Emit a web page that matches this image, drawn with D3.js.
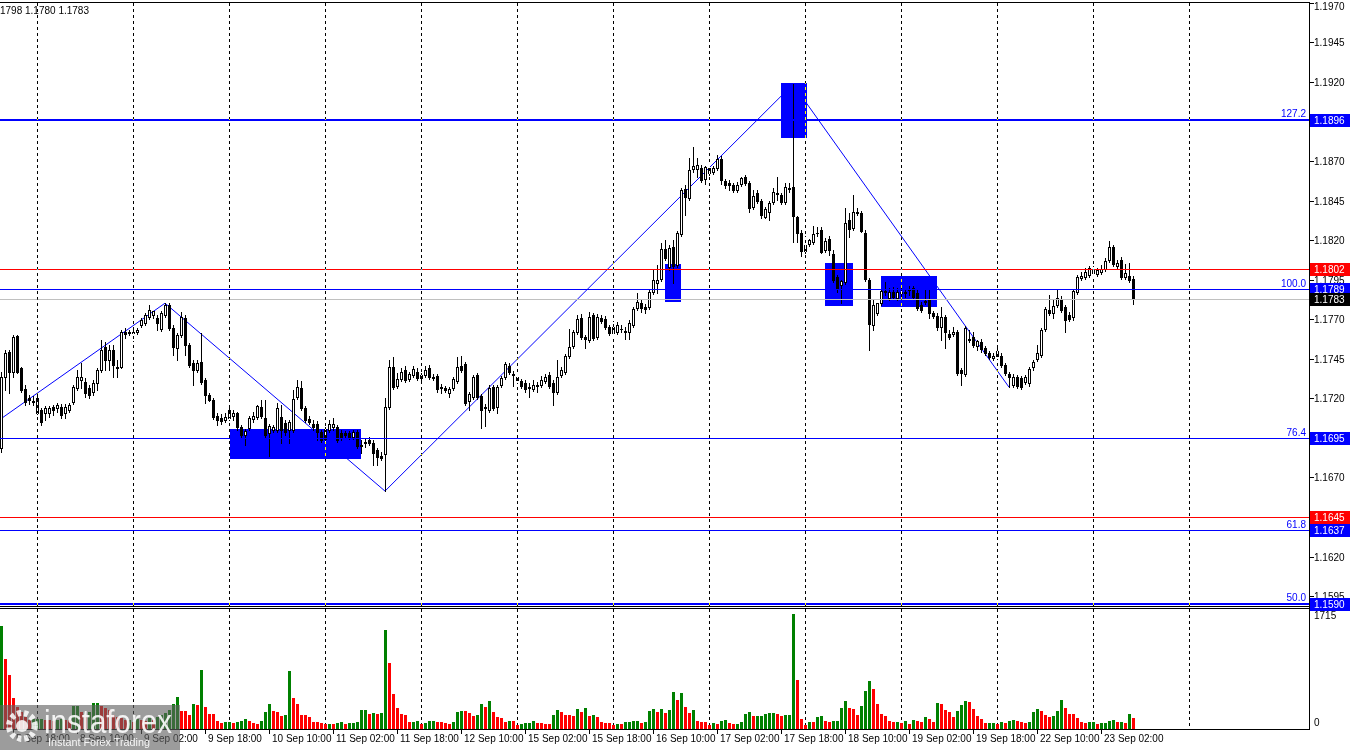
<!DOCTYPE html>
<html><head><meta charset="utf-8">
<script src="https://cdn.jsdelivr.net/npm/d3@7"></script>
<style>html,body{margin:0;padding:0;background:#fff;}svg{display:block;font-family:"Liberation Sans",Arial,sans-serif;}</style>
</head><body><svg id="c" width="1350" height="750"></svg>
<script>
// ---------- DATA (EURUSD H1, 5 Sep 15:00 .. 23 Sep 10:00) ----------
const opens=[1.16888,1.17338,1.17495,1.17369,1.17596,1.17394,1.17261,1.17205,1.17186,1.17110,
1.17129,1.17110,1.17110,1.17148,1.17142,1.17148,1.17110,1.17129,1.17179,1.17268,
1.17318,1.17306,1.17268,1.17242,1.17299,1.17382,1.17527,1.17445,1.17508,1.17401,
1.17401,1.17622,1.17615,1.17622,1.17622,1.17666,1.17679,1.17717,1.17729,1.17710,
1.17640,1.17729,1.17792,1.17647,1.17521,1.17603,1.17710,1.17540,1.17426,1.17382,
1.17432,1.17318,1.17224,1.17192,1.17091,1.17079,1.17066,1.17079,1.17091,1.17110,
1.17021,1.16970,1.17015,1.17072,1.17085,1.17148,1.17079,1.16983,1.17002,1.17002,
1.17085,1.17047,1.17002,1.17002,1.17211,1.17268,1.17142,1.17072,1.17041,1.17041,
1.16990,1.16945,1.17002,1.17021,1.17021,1.16983,1.16983,1.16983,1.16958,1.16990,
1.16907,1.16920,1.16939,1.16920,1.16876,1.16838,1.16850,1.17148,1.17401,1.17280,
1.17325,1.17382,1.17325,1.17350,1.17369,1.17331,1.17350,1.17394,1.17337,1.17344,
1.17274,1.17268,1.17236,1.17268,1.17312,1.17407,1.17420,1.17186,1.17211,1.17350,
1.17217,1.17142,1.17129,1.17274,1.17148,1.17287,1.17337,1.17407,1.17356,1.17337,
1.17312,1.17299,1.17274,1.17261,1.17287,1.17287,1.17312,1.17350,1.17299,1.17242,
1.17350,1.17369,1.17470,1.17533,1.17622,1.17710,1.17590,1.17571,1.17729,1.17590,
1.17710,1.17704,1.17653,1.17615,1.17622,1.17641,1.17622,1.17622,1.17666,1.17773,
1.17805,1.17780,1.17780,1.17875,1.17931,1.17956,1.18147,1.18033,1.18159,1.18045,
1.18241,1.18526,1.18469,1.18652,1.18652,1.18658,1.18589,1.18658,1.18633,1.18658,
1.18715,1.18576,1.18564,1.18551,1.18519,1.18557,1.18601,1.18564,1.18412,1.18500,
1.18450,1.18349,1.18380,1.18443,1.18500,1.18488,1.18443,1.18532,1.18538,1.18349,
1.18248,1.18134,1.18178,1.18191,1.18248,1.18266,1.18140,1.18210,1.18115,1.17968,
1.17919,1.17937,1.18330,1.18279,1.18380,1.18374,1.18248,1.17950,1.17666,1.17742,
1.17805,1.17875,1.17837,1.17875,1.17837,1.17875,1.17868,1.17887,1.17900,1.17868,
1.17792,1.17811,1.17830,1.17742,1.17723,1.17653,1.17717,1.17609,1.17609,1.17622,
1.17382,1.17356,1.17578,1.17590,1.17533,1.17559,1.17521,1.17489,1.17457,1.17502,
1.17470,1.17413,1.17356,1.17287,1.17337,1.17331,1.17306,1.17299,1.17401,1.17451,
1.17477,1.17641,1.17761,1.17742,1.17792,1.17830,1.17780,1.17729,1.17717,1.17875,
1.17962,1.17968,1.17981,1.17994,1.17987,1.18001,1.18020,1.18077,1.18159,1.18039,
1.18077,1.17968,1.17975,1.17956];
const highs=[1.17369,1.17508,1.17508,1.17603,1.17603,1.17401,1.17287,1.17224,1.17217,1.17217,
1.17142,1.17154,1.17154,1.17161,1.17173,1.17167,1.17167,1.17173,1.17287,1.17382,
1.17426,1.17331,1.17287,1.17318,1.17394,1.17571,1.17559,1.17540,1.17540,1.17445,
1.17634,1.17647,1.17634,1.17634,1.17647,1.17710,1.17742,1.17792,1.17748,1.17729,
1.17754,1.17805,1.17805,1.17666,1.17615,1.17748,1.17729,1.17552,1.17445,1.17445,
1.17615,1.17331,1.17236,1.17205,1.17110,1.17104,1.17110,1.17142,1.17129,1.17117,
1.17034,1.17009,1.17091,1.17117,1.17161,1.17192,1.17192,1.17041,1.17034,1.17173,
1.17161,1.17066,1.17066,1.17255,1.17318,1.17312,1.17154,1.17091,1.17066,1.17060,
1.17002,1.17021,1.17066,1.17079,1.17034,1.17002,1.16996,1.16996,1.17002,1.17002,
1.16939,1.16945,1.16958,1.16939,1.16888,1.16863,1.17205,1.17445,1.17464,1.17363,
1.17394,1.17407,1.17369,1.17407,1.17394,1.17363,1.17407,1.17413,1.17356,1.17356,
1.17293,1.17280,1.17274,1.17337,1.17464,1.17470,1.17432,1.17243,1.17350,1.17363,
1.17230,1.17167,1.17287,1.17287,1.17287,1.17344,1.17432,1.17426,1.17375,1.17350,
1.17325,1.17318,1.17299,1.17318,1.17306,1.17344,1.17356,1.17369,1.17318,1.17445,
1.17401,1.17483,1.17641,1.17634,1.17729,1.17736,1.17603,1.17748,1.17742,1.17736,
1.17729,1.17723,1.17666,1.17685,1.17685,1.17666,1.17653,1.17698,1.17780,1.17868,
1.17824,1.17799,1.17887,1.18014,1.18045,1.18184,1.18203,1.18172,1.18203,1.18260,
1.18532,1.18551,1.18722,1.18791,1.18722,1.18677,1.18671,1.18677,1.18671,1.18740,
1.18734,1.18589,1.18582,1.18564,1.18570,1.18601,1.18614,1.18576,1.18519,1.18519,
1.18462,1.18412,1.18450,1.18532,1.18601,1.18500,1.18564,1.18564,1.19189,1.18355,
1.18266,1.18229,1.18210,1.18292,1.18286,1.18286,1.18216,1.18229,1.18140,1.17981,
1.17950,1.18405,1.18374,1.18488,1.18405,1.18387,1.18266,1.17962,1.17824,1.17805,
1.17893,1.17937,1.17900,1.17906,1.17900,1.17900,1.17893,1.17912,1.17912,1.17887,
1.17811,1.17887,1.17887,1.17754,1.17742,1.17780,1.17729,1.17634,1.17653,1.17634,
1.17394,1.17660,1.17634,1.17622,1.17571,1.17578,1.17533,1.17502,1.17489,1.17521,
1.17489,1.17426,1.17369,1.17356,1.17350,1.17344,1.17350,1.17401,1.17445,1.17540,
1.17647,1.17780,1.17856,1.17824,1.17887,1.17849,1.17792,1.17748,1.17887,1.17981,
1.18001,1.18026,1.18039,1.18039,1.18026,1.18045,1.18090,1.18197,1.18172,1.18077,
1.18096,1.18052,1.18058,1.17980];
const lows=[1.16863,1.17255,1.17236,1.17338,1.17363,1.17242,1.17160,1.17167,1.17160,1.17104,
1.17034,1.17066,1.17085,1.17098,1.17117,1.17079,1.17079,1.17117,1.17167,1.17255,
1.17268,1.17211,1.17205,1.17224,1.17255,1.17369,1.17382,1.17382,1.17338,1.17337,
1.17394,1.17584,1.17603,1.17571,1.17609,1.17653,1.17666,1.17704,1.17710,1.17634,
1.17628,1.17717,1.17634,1.17477,1.17445,1.17590,1.17477,1.17401,1.17287,1.17369,
1.17293,1.17173,1.17186,1.17072,1.17034,1.17041,1.17053,1.17066,1.17066,1.17002,
1.16958,1.16907,1.17002,1.17053,1.17072,1.17079,1.16958,1.16838,1.16990,1.16990,
1.16920,1.16970,1.16920,1.16990,1.17198,1.17129,1.17053,1.17041,1.17002,1.16939,
1.16926,1.16932,1.16990,1.17002,1.16926,1.16939,1.16958,1.16945,1.16945,1.16888,
1.16857,1.16895,1.16907,1.16781,1.16781,1.16813,1.16617,1.17135,1.17261,1.17268,
1.17312,1.17306,1.17312,1.17337,1.17318,1.17318,1.17337,1.17325,1.17318,1.17242,
1.17236,1.17242,1.17211,1.17255,1.17299,1.17369,1.17161,1.17129,1.17198,1.17198,
1.17015,1.17028,1.17117,1.17129,1.17110,1.17274,1.17325,1.17356,1.17280,1.17306,
1.17268,1.17242,1.17211,1.17249,1.17242,1.17274,1.17299,1.17268,1.17161,1.17230,
1.17337,1.17356,1.17457,1.17521,1.17609,1.17578,1.17521,1.17559,1.17571,1.17578,
1.17679,1.17641,1.17603,1.17603,1.17609,1.17622,1.17578,1.17578,1.17653,1.17761,
1.17748,1.17742,1.17767,1.17862,1.17868,1.17943,1.18077,1.18014,1.17931,1.18033,
1.18229,1.18361,1.18456,1.18633,1.18602,1.18570,1.18557,1.18614,1.18621,1.18646,
1.18557,1.18532,1.18519,1.18506,1.18506,1.18545,1.18551,1.18380,1.18400,1.18437,
1.18342,1.18342,1.18330,1.18431,1.18456,1.18431,1.18431,1.18506,1.18191,1.18191,
1.18102,1.18121,1.18165,1.18178,1.18229,1.18121,1.18127,1.18108,1.17937,1.17875,
1.17805,1.17925,1.18222,1.18267,1.18361,1.18254,1.17943,1.17508,1.17634,1.17729,
1.17792,1.17856,1.17824,1.17830,1.17824,1.17849,1.17843,1.17856,1.17830,1.17761,
1.17748,1.17799,1.17710,1.17710,1.17634,1.17571,1.17521,1.17578,1.17596,1.17350,
1.17287,1.17344,1.17559,1.17527,1.17508,1.17495,1.17477,1.17451,1.17445,1.17457,
1.17401,1.17350,1.17274,1.17274,1.17268,1.17261,1.17293,1.17280,1.17382,1.17439,
1.17464,1.17628,1.17729,1.17710,1.17780,1.17748,1.17622,1.17691,1.17698,1.17862,
1.17950,1.17956,1.17968,1.17981,1.17975,1.17987,1.18007,1.18064,1.18039,1.18026,
1.17956,1.17956,1.17937,1.17800];
const closes=[1.17338,1.17489,1.17369,1.17590,1.17369,1.17255,1.17179,1.17192,1.17179,1.17205,
1.17053,1.17142,1.17142,1.17129,1.17161,1.17098,1.17148,1.17161,1.17274,1.17337,
1.17337,1.17236,1.17224,1.17299,1.17382,1.17508,1.17445,1.17508,1.17413,1.17394,
1.17622,1.17609,1.17622,1.17615,1.17634,1.17698,1.17729,1.17761,1.17754,1.17679,
1.17742,1.17792,1.17647,1.17527,1.17603,1.17717,1.17540,1.17413,1.17382,1.17426,
1.17306,1.17224,1.17192,1.17085,1.17066,1.17060,1.17085,1.17129,1.17110,1.17021,
1.16970,1.16996,1.17079,1.17091,1.17154,1.17091,1.16970,1.17028,1.17021,1.17142,
1.17002,1.16990,1.17053,1.17198,1.17274,1.17142,1.17066,1.17053,1.17021,1.16990,
1.16939,1.17009,1.17041,1.17041,1.16939,1.16951,1.16970,1.16958,1.16990,1.16901,
1.16901,1.16926,1.16920,1.16857,1.16832,1.16825,1.17148,1.17401,1.17274,1.17325,
1.17369,1.17318,1.17356,1.17388,1.17331,1.17350,1.17382,1.17337,1.17331,1.17261,
1.17268,1.17255,1.17261,1.17325,1.17401,1.17382,1.17173,1.17230,1.17337,1.17211,
1.17129,1.17148,1.17268,1.17142,1.17274,1.17331,1.17420,1.17369,1.17350,1.17318,
1.17280,1.17261,1.17268,1.17287,1.17280,1.17318,1.17337,1.17280,1.17242,1.17337,
1.17382,1.17470,1.17527,1.17622,1.17704,1.17590,1.17578,1.17717,1.17584,1.17717,
1.17691,1.17653,1.17615,1.17653,1.17666,1.17644,1.17628,1.17679,1.17767,1.17811,
1.17773,1.17767,1.17875,1.17950,1.17950,1.18147,1.18090,1.18153,1.18039,1.18248,
1.18519,1.18475,1.18646,1.18671,1.18677,1.18583,1.18665,1.18627,1.18658,1.18715,
1.18582,1.18551,1.18551,1.18519,1.18551,1.18595,1.18564,1.18406,1.18481,1.18450,
1.18361,1.18400,1.18437,1.18506,1.18494,1.18443,1.18538,1.18526,1.18355,1.18248,
1.18134,1.18172,1.18203,1.18241,1.18248,1.18127,1.18197,1.18140,1.17950,1.17900,
1.17943,1.18311,1.18273,1.18380,1.18374,1.18260,1.17956,1.17672,1.17792,1.17805,
1.17881,1.17881,1.17875,1.17843,1.17875,1.17868,1.17875,1.17887,1.17843,1.17773,
1.17761,1.17818,1.17742,1.17723,1.17653,1.17717,1.17622,1.17590,1.17622,1.17363,
1.17363,1.17647,1.17571,1.17540,1.17565,1.17514,1.17489,1.17464,1.17470,1.17470,
1.17413,1.17363,1.17337,1.17337,1.17280,1.17274,1.17337,1.17388,1.17432,1.17489,
1.17634,1.17767,1.17742,1.17786,1.17837,1.17761,1.17698,1.17704,1.17881,1.17968,
1.17975,1.18001,1.18026,1.18020,1.18014,1.18020,1.18071,1.18159,1.18052,1.18058,
1.17968,1.17994,1.17950,1.17830];
const volumes=[1535,1040,800,450,315,240,165,120,135,137,
140,120,115,105,120,135,120,115,330,335,
240,165,245,375,380,330,300,270,195,165,
150,120,125,90,135,120,105,150,120,165,
195,225,270,360,465,255,250,195,360,345,
870,315,210,205,105,75,90,95,80,95,
105,135,105,75,60,110,240,360,255,240,
180,195,855,450,360,195,190,165,90,85,
75,60,65,60,75,90,65,75,80,90,
270,275,210,225,210,225,1475,980,510,300,
210,195,90,95,100,65,75,105,110,90,
85,75,60,90,240,255,250,225,180,195,
360,315,405,240,165,150,90,105,100,45,
60,75,78,105,75,72,60,58,195,270,
240,195,194,180,285,240,300,180,195,165,
90,75,74,45,60,58,90,92,105,107,
75,90,255,285,240,285,225,270,540,420,
525,315,225,270,105,90,88,45,75,60,
105,120,75,60,62,90,210,240,180,182,
184,210,225,227,210,180,195,197,1715,720,
135,45,90,88,165,180,105,90,105,107,
300,405,300,285,195,330,555,705,585,360,
210,180,105,90,92,75,105,60,120,105,
90,165,135,90,375,360,270,240,165,255,
345,405,390,285,180,135,75,76,78,60,
90,75,105,120,105,90,75,90,240,285,
255,195,165,180,255,420,300,210,208,150,
90,75,90,92,60,75,77,105,120,90,
92,75,210,150];
const volumeMax=1715;

const dateTickIndex=[3,19,35,51,67,83,99,115,131,147,163,179,195,211,227,243,259,275];
const dateTickLabels=["5 Sep 18:00","8 Sep 10:00","9 Sep 02:00","9 Sep 18:00","10 Sep 10:00","11 Sep 02:00","11 Sep 18:00","12 Sep 10:00","15 Sep 02:00","15 Sep 18:00","16 Sep 10:00","17 Sep 02:00","17 Sep 18:00","18 Sep 10:00","19 Sep 02:00","19 Sep 18:00","22 Sep 10:00","23 Sep 02:00"];
const daySeparatorIndex=[9,33,57,81,105,129,153,177,201,225,249,273,297];
const priceTicks=[1.1970,1.1945,1.1920,1.1895,1.1870,1.1845,1.1820,1.1795,1.1770,1.1745,1.1720,1.1695,1.1670,1.1645,1.1620,1.1595];

const fiboPrices=[1.1896,1.1789,1.1695,1.1637,1.1590];
const fiboLabels=["127.2","100.0","76.4","61.8","50.0"];
const redLevelPrices=[1.1802,1.1645];
const currentPrice=1.1783;
const headerText="1798 1.1780 1.1783";

const zoneStart=[57.25,166,195,206,220];
const zoneEnd=[90,170,201.5,213,234];
const zoneTop=[1.1701,1.1805,1.1920,1.1806,1.1798];
const zoneBottom=[1.1682,1.1781,1.1885,1.1779,1.1778];

const zigzagIndex=[-0.25,41,96,198,252];
const zigzagPrice=[1.1707,1.17805,1.16617,1.19189,1.17274];

// ---------- DRAW ----------
(function(){
const svg=d3.select("#c");
const n=Math.min(opens.length,highs.length,lows.length,closes.length,volumes.length);
const data=d3.range(n).map(i=>({i,o:opens[i],h:highs[i],l:lows[i],c:closes[i],v:volumes[i]}));

const PR=1309; // right edge of plot
const x=d3.scaleLinear().domain([0,283]).range([1,1133]);
const y=d3.scaleLinear().domain([1.1590,1.1896]).range([604.5,120.5]);
const yv=d3.scaleLinear().domain([0,volumeMax]).range([728,614]);
const row=p=>Math.floor(y(p));
const BLUE="#0000ff";

svg.append("rect").attr("width",1350).attr("height",750).attr("fill","#fff");
const defs=svg.append("defs");
defs.append("clipPath").attr("id","mainClip").append("rect").attr("x",0).attr("y",3).attr("width",PR).attr("height",603);
defs.append("clipPath").attr("id","volClip").append("rect").attr("x",0).attr("y",610).attr("width",PR).attr("height",119);

const main=svg.append("g").attr("clip-path","url(#mainClip)");

// zones (background objects)
main.selectAll("rect.zone").data(zoneStart.map((s,k)=>k)).join("rect")
  .attr("x",k=>Math.round(x(zoneStart[k])))
  .attr("y",k=>Math.round(y(zoneTop[k])))
  .attr("width",k=>Math.round(x(zoneEnd[k]))-Math.round(x(zoneStart[k])))
  .attr("height",k=>Math.round(y(zoneBottom[k]))-Math.round(y(zoneTop[k])))
  .attr("fill",BLUE);

// day separators (dashed grid, xor-like)
svg.append("g").selectAll("line").data(daySeparatorIndex.filter(i=>x(i)<PR)).join("line")
  .attr("x1",i=>Math.round(x(i))+0.5).attr("x2",i=>Math.round(x(i))+0.5)
  .attr("y1",3).attr("y2",728)
  .attr("stroke","#fff").attr("stroke-dasharray","3,3")
  .style("mix-blend-mode","difference");

// zigzag
main.append("path").datum(zigzagIndex.map((i,k)=>[i,zigzagPrice[k]]))
  .attr("d",d3.line().x(d=>x(d[0])).y(d=>y(d[1])))
  .attr("fill","none").attr("stroke",BLUE).attr("stroke-width",1);

// candles
const cg=main.append("g");
cg.selectAll("rect.wick").data(data).join("rect")
  .attr("x",d=>Math.round(x(d.i)))
  .attr("y",d=>Math.round(y(Math.max(d.h,d.o,d.c))))
  .attr("width",1)
  .attr("height",d=>Math.max(1,Math.round(y(Math.min(d.l,d.o,d.c)))-Math.round(y(Math.max(d.h,d.o,d.c)))+1))
  .attr("fill","#000");
const bTop=d=>Math.round(y(Math.max(d.o,d.c))), bBot=d=>Math.round(y(Math.min(d.o,d.c)));
cg.selectAll("rect.body").data(data).join("rect")
  .attr("x",d=>Math.round(x(d.i))-1).attr("y",bTop).attr("width",3)
  .attr("height",d=>bBot(d)-bTop(d)+1).attr("fill","#000");
cg.selectAll("rect.inner").data(data.filter(d=>d.c>d.o && bBot(d)-bTop(d)>=2)).join("rect")
  .attr("x",d=>Math.round(x(d.i))).attr("y",d=>bTop(d)+1).attr("width",1)
  .attr("height",d=>bBot(d)-bTop(d)-1).attr("fill","#fff");

// horizontal levels (drawn on top)
const lv=main.append("g");
const thick=k=>(fiboLabels[k]==="127.2"||fiboLabels[k]==="50.0")?2:1;
fiboPrices.forEach((p,k)=>{
  const w=thick(k);
  lv.append("rect").attr("x",0).attr("y",row(p)-(w-1)).attr("width",PR).attr("height",w).attr("fill",BLUE);
});
redLevelPrices.forEach(p=>lv.append("rect").attr("x",0).attr("y",row(p)).attr("width",PR).attr("height",1).attr("fill","#ff0000"));
lv.append("rect").attr("x",0).attr("y",row(currentPrice)).attr("width",PR).attr("height",1).attr("fill","#c0c0c0");

// fibo labels
svg.append("g").selectAll("text").data(fiboPrices).join("text")
  .attr("x",1306).attr("y",(p,k)=>row(p)-2-(thick(k)-1))
  .attr("text-anchor","end").attr("font-size",10).attr("fill",BLUE)
  .text((p,k)=>fiboLabels[k]);

// volume bars
svg.append("g").attr("clip-path","url(#volClip)").selectAll("rect").data(data).join("rect")
  .attr("x",d=>Math.round(x(d.i))-1).attr("width",3)
  .attr("y",d=>Math.round(yv(d.v)))
  .attr("height",d=>729-Math.round(yv(d.v)))
  .attr("fill",d=>(d.i===0||d.v>volumes[d.i-1])?"#008000":"#ff0000");

// frame lines
const fr=svg.append("g").attr("stroke","#000").attr("stroke-width",1).attr("shape-rendering","crispEdges");
fr.append("line").attr("x1",0).attr("x2",PR+1).attr("y1",2.5).attr("y2",2.5);
fr.append("line").attr("x1",0).attr("x2",PR+1).attr("y1",606.5).attr("y2",606.5);
fr.append("line").attr("x1",0).attr("x2",PR+1).attr("y1",608.5).attr("y2",608.5);
fr.append("line").attr("x1",0).attr("x2",PR+1).attr("y1",729.5).attr("y2",729.5);
fr.append("line").attr("x1",PR+0.5).attr("x2",PR+0.5).attr("y1",2).attr("y2",730);

// price axis ticks and labels
const ax=svg.append("g").attr("font-size",10).attr("fill","#000");
priceTicks.forEach(p=>{
  const r=row(p);
  ax.append("rect").attr("x",PR+1).attr("y",r).attr("width",4).attr("height",1).attr("fill","#000");
  ax.append("text").attr("x",PR+5).attr("y",Math.max(r+1.5,7)).attr("dominant-baseline","middle").text(p.toFixed(4));
});
ax.append("text").attr("x",PR+5).attr("y",616).attr("dominant-baseline","middle").text(String(volumeMax));
ax.append("text").attr("x",PR+5).attr("y",723).attr("dominant-baseline","middle").text("0");

function box(p,fill){
  const r=row(p);
  ax.append("rect").attr("x",PR+1).attr("y",r-6).attr("width",40).attr("height",13).attr("fill",fill);
  ax.append("text").attr("x",PR+5).attr("y",r+1).attr("dominant-baseline","middle").attr("fill","#fff").text(p.toFixed(4));
}
fiboPrices.forEach(p=>box(p,BLUE));
redLevelPrices.forEach(p=>box(p,"#ff0000"));
box(currentPrice,"#000");

// date axis
const dx=svg.append("g").attr("font-size",10).attr("fill","#000");
dateTickIndex.forEach((i,k)=>{
  const xx=Math.round(x(i));
  dx.append("rect").attr("x",xx).attr("y",730).attr("width",1).attr("height",4).attr("fill","#000");
  dx.append("text").attr("x",xx+3).attr("y",742).text(dateTickLabels[k]);
});

svg.append("text").attr("x",0).attr("y",14).attr("font-size",10).attr("fill","#000").text(headerText);

// watermark logo
const lg=svg.append("g");
lg.append("rect").attr("x",0).attr("y",705).attr("width",180).attr("height",45).attr("fill","rgba(95,95,95,0.62)");
lg.append("circle").attr("cx",22).attr("cy",726).attr("r",13).attr("fill","none")
  .attr("stroke","rgba(255,255,255,0.85)").attr("stroke-width",6).attr("stroke-dasharray","4,3");
lg.append("circle").attr("cx",22).attr("cy",726).attr("r",6).attr("fill","rgba(255,255,255,0.85)");
lg.append("text").attr("x",44).attr("y",733).attr("font-size",33).attr("fill","rgba(255,255,255,0.88)")
  .attr("textLength",128).attr("lengthAdjust","spacingAndGlyphs").text("instaforex");
lg.append("text").attr("x",48).attr("y",746).attr("font-size",11).attr("fill","rgba(255,255,255,0.9)")
  .attr("textLength",102).attr("lengthAdjust","spacingAndGlyphs").text("Instant Forex Trading");
})();
</script></body></html>
